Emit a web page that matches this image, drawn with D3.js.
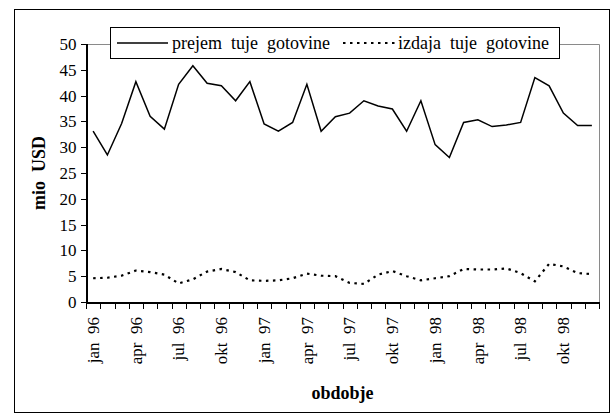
<!DOCTYPE html>
<html>
<head>
<meta charset="utf-8">
<script src="https://cdn.jsdelivr.net/npm/d3@7"></script>
<style>
    body { margin: 0; background: #fff; }
    svg text { font-family: "Liberation Serif", "Times New Roman", serif; fill: #000; }
    .axis path, .axis line { stroke: #000; shape-rendering: crispEdges; }
</style>
</head>
<body>
<svg id="chart"></svg>
<script>
// ---- data ----
const months = ['jan', 'feb', 'mar', 'apr', 'maj', 'jun', 'jul', 'avg', 'sep', 'okt', 'nov', 'dec'];
const years = ['96', '97', '98'];
const periods = years.flatMap(y => months.map(m => m + '\u00a0\u00a0' + y));

// prejem tuje gotovine (mio USD)
const prejem = [33.1, 28.5, 34.6, 42.7, 36.0, 33.5, 42.2, 45.8, 42.4, 41.9, 39.0, 42.7,
                34.5, 33.1, 34.8, 42.2, 33.1, 35.9, 36.6, 39.0, 38.0, 37.4, 33.1, 39.0,
                30.5, 28.0, 34.8, 35.3, 34.0, 34.3, 34.8, 43.5, 41.9, 36.6, 34.2, 34.2];
// izdaja tuje gotovine (mio USD)
const izdaja = [4.6, 4.7, 5.1, 6.1, 5.8, 5.3, 3.6, 4.4, 5.9, 6.4, 5.8, 4.2,
                4.1, 4.2, 4.6, 5.5, 5.1, 5.0, 3.7, 3.5, 5.3, 6.0, 5.0, 4.2,
                4.6, 5.0, 6.4, 6.3, 6.3, 6.5, 5.6, 4.0, 7.4, 6.9, 5.6, 5.4];

const seriesNames = ['prejem\u00a0\u00a0tuje\u00a0\u00a0gotovine', 'izdaja\u00a0\u00a0tuje\u00a0\u00a0gotovine'];
const yTicks = [0, 5, 10, 15, 20, 25, 30, 35, 40, 45, 50];
const xTitle = 'obdobje';
const yTitle = 'mio\u00a0\u00a0USD';

// ---- layout ----
const width = 616, height = 418;
const plot = { left: 86, right: 599, top: 44, bottom: 302 };

const svg = d3.select('#chart')
    .attr('width', width)
    .attr('height', height);

// outer frame
svg.append('rect')
    .attr('x', 14.5).attr('y', 9.5)
    .attr('width', 595).attr('height', 403)
    .attr('fill', 'none')
    .attr('stroke', '#000')
    .attr('stroke-width', 1);

// scales
const x = d3.scaleBand()
    .domain(periods)
    .range([plot.left, plot.right])
    .padding(0);

const xEdge = d3.scaleLinear()
    .domain([0, periods.length])
    .range([plot.left, plot.right]);

const y = d3.scaleLinear()
    .domain([0, 50])
    .range([plot.bottom, plot.top]);

// plot area border (grey top / right)
svg.append('path')
    .attr('d', `M${plot.left},${plot.top + 0.5}H${plot.right + 0.5}V${plot.bottom}`)
    .attr('fill', 'none')
    .attr('stroke', '#8a8a8a')
    .attr('stroke-width', 1);

// y axis
const yAxis = svg.append('g')
    .attr('class', 'axis')
    .attr('transform', `translate(${plot.left + 0.5},0)`)
    .call(d3.axisLeft(y).tickValues(yTicks).tickSize(6).tickPadding(4));
yAxis.select('.domain').attr('stroke-width', 1.3);
yAxis.selectAll('text')
    .style('font-size', '17px');

// x axis: ticks on category edges
const xAxis = svg.append('g')
    .attr('class', 'axis')
    .attr('transform', `translate(0,${plot.bottom + 0.5})`)
    .call(d3.axisBottom(xEdge).tickValues(d3.range(periods.length + 1)).tickSize(6).tickFormat(''));
xAxis.select('.domain').attr('stroke-width', 1.3);

// x labels: every third month, rotated
const xLabels = svg.append('g')
    .attr('transform', `translate(0,${plot.bottom})`)
    .call(d3.axisBottom(x).tickSize(0).tickPadding(0)
        .tickFormat((d, i) => i % 3 === 0 ? d : ''));
xLabels.select('.domain').remove();
xLabels.selectAll('text')
    .style('font-size', '17px')
    .attr('text-anchor', 'end')
    .attr('transform', 'rotate(-90)')
    .attr('x', -15)
    .attr('y', 0)
    .attr('dy', '0.33em');

// lines
const line = d3.line()
    .x((d, i) => x(periods[i]) + x.bandwidth() / 2)
    .y(d => y(d));

svg.append('path')
    .datum(prejem)
    .attr('d', line)
    .attr('fill', 'none')
    .attr('stroke', '#000')
    .attr('stroke-width', 1.5)
    .attr('stroke-linejoin', 'miter');

svg.append('path')
    .datum(izdaja)
    .attr('d', line)
    .attr('fill', 'none')
    .attr('stroke', '#000')
    .attr('stroke-width', 2.2)
    .attr('stroke-dasharray', '2.5,4.5');

// axis titles
svg.append('text')
    .attr('x', (plot.left + plot.right) / 2)
    .attr('y', 399)
    .attr('text-anchor', 'middle')
    .style('font-size', '18px')
    .style('font-weight', 'bold')
    .text(xTitle);

svg.append('text')
    .attr('transform', `translate(45,${(plot.top + plot.bottom) / 2}) rotate(-90)`)
    .attr('text-anchor', 'middle')
    .style('font-size', '18px')
    .style('font-weight', 'bold')
    .text(yTitle);

// legend
const legend = svg.append('g');
legend.append('rect')
    .attr('x', 110.5).attr('y', 27.5)
    .attr('width', 449).attr('height', 31)
    .attr('fill', '#fff')
    .attr('stroke', '#000');

const legendItems = [
    { name: seriesNames[0], x1: 117, x2: 168, tx: 172, dash: null, w: 1.5 },
    { name: seriesNames[1], x1: 343, x2: 396, tx: 398, dash: '2.5,4.5', w: 2.2 }
];
legendItems.forEach(it => {
    legend.append('line')
        .attr('x1', it.x1).attr('x2', it.x2)
        .attr('y1', 43).attr('y2', 43)
        .attr('stroke', '#000')
        .attr('stroke-width', it.w)
        .attr('stroke-dasharray', it.dash);
    legend.append('text')
        .attr('x', it.tx)
        .attr('y', 49)
        .style('font-size', '18px')
        .text(it.name);
});
</script>
</body>
</html>
